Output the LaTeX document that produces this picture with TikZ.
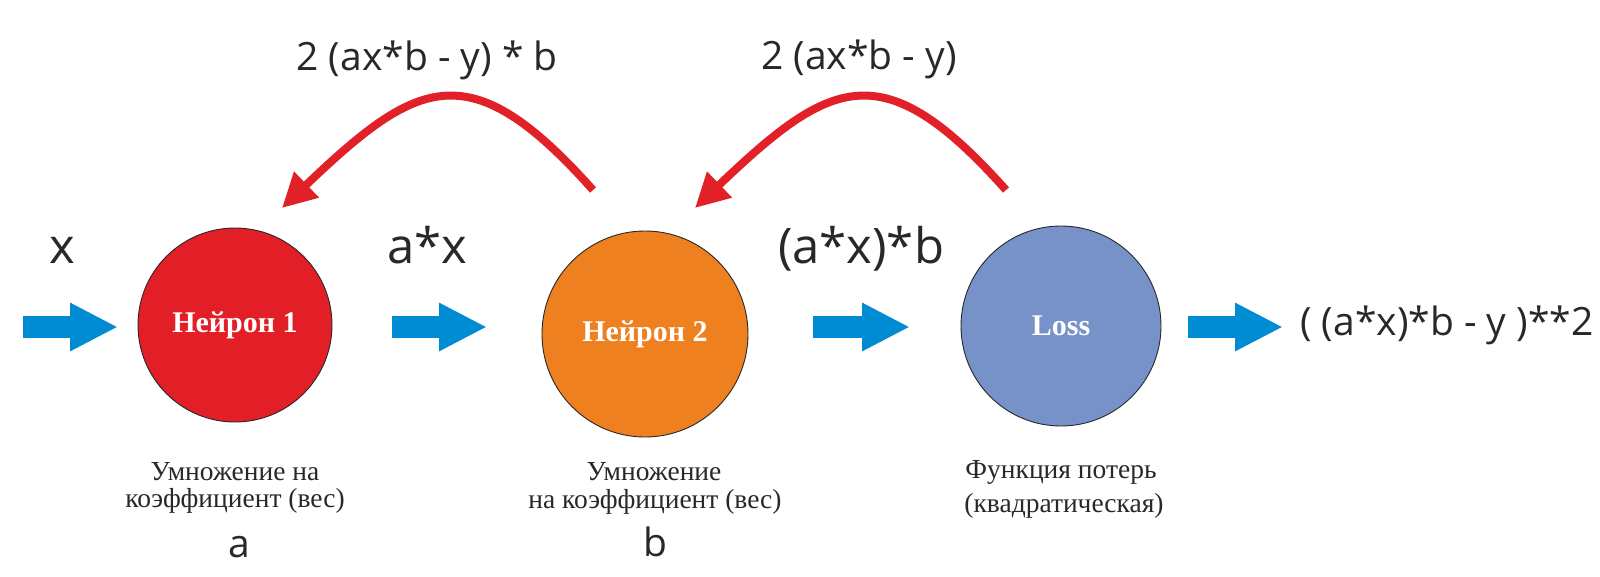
\documentclass[tikz,border=0pt]{standalone}
\usepackage{fontspec}
\setmainfont{Liberation Serif}
\newfontfamily\labelfont{Open Sans}
\usetikzlibrary{arrows.meta}

\definecolor{neuronred}{RGB}{226,30,38}
\definecolor{neuronorange}{RGB}{238,128,32}
\definecolor{lossblue}{RGB}{119,145,201}
\definecolor{flowblue}{RGB}{0,140,210}
\definecolor{gradred}{RGB}{226,32,40}
\definecolor{textgray}{RGB}{40,40,40}

\tikzset{
	neuron/.style={circle, draw=textgray, line width=0.9pt, inner sep=0pt, text=white,
		font=\fontsize{30}{34}\selectfont\bfseries},
	flow/.style={draw=flowblue, line width=22pt, -{Triangle[length=48pt,width=45pt]}},
	grad/.style={draw=gradred, line width=8pt, -{Triangle[length=34pt,width=34pt]}},
	biglabel/.style={text=textgray, inner sep=0pt, anchor=base, font=\labelfont\fontsize{49}{56}\selectfont},
	gradlabel/.style={text=textgray, inner sep=0pt, anchor=base, font=\labelfont\fontsize{39}{44}\selectfont},
	caption/.style={text=textgray, inner sep=0pt, anchor=base, font=\fontsize{27.5}{30}\selectfont}
}

\begin{document}
\begin{tikzpicture}[x=1pt, y=-1pt]
		\useasboundingbox (0,0) rectangle (1600,576);

		% Neurons
		\node[neuron, fill=neuronred, minimum size=194pt] (n1) at (235,325) {Нейрон 1};
		\node[neuron, fill=neuronorange, minimum size=206pt] (n2) at (645,334) {Нейрон 2};
		\node[neuron, fill=lossblue, minimum size=200pt] (n3) at (1061,326) {Loss};

		% Forward pass
		\coordinate (in1) at (23,327);   \coordinate (in2) at (118,327);
		\coordinate (ab1) at (392,327);  \coordinate (ab2) at (487,327);
		\coordinate (bl1) at (813,327);  \coordinate (bl2) at (910,327);
		\coordinate (out1) at (1188,327); \coordinate (out2) at (1283,327);
		\draw[flow] (in1) -- (in2);
		\draw[flow] (ab1) -- (ab2);
		\draw[flow] (bl1) -- (bl2);
		\draw[flow] (out1) -- (out2);

		\node[biglabel] (xin) at (62,263) {x};
		\node[biglabel] (ax) at (427,263) {a*x};
		\node[biglabel] (axb) at (861,263) {(a*x)*b};
		\node[gradlabel, anchor=base west] (res) at (1300,335) {( (a*x)*b - y )**2};

		% Backward pass
		\coordinate (g2) at (593,190);  \coordinate (g1) at (282,208);
		\coordinate (g3) at (1006,190); \coordinate (g2b) at (695,208);
		\draw[grad] (g2) .. controls (470,52) and (418,78) .. (g1);
		\draw[grad] (g3) .. controls (883,52) and (831,78) .. (g2b);
		\node[gradlabel] (d1) at (427,70) {2 (ax*b - y) * b};
		\node[gradlabel] (d2) at (859,69) {2 (ax*b - y)};

		% Captions
		\node[caption] (c1a) at (235,480) {Умножение на};
		\node[caption] (c1b) at (235,507) {коэффициент (вес)};
		\node[gradlabel] (wa) at (239,557) {a};
		\node[caption] (c2a) at (654,480) {Умножение};
		\node[caption] (c2b) at (655,508) {на коэффициент (вес)};
		\node[gradlabel] (wb) at (655,556) {b};
		\node[caption] (c3a) at (1061,478) {Функция потерь};
		\node[caption] (c3b) at (1064,512) {(квадратическая)};
	\end{tikzpicture}
\end{document}
